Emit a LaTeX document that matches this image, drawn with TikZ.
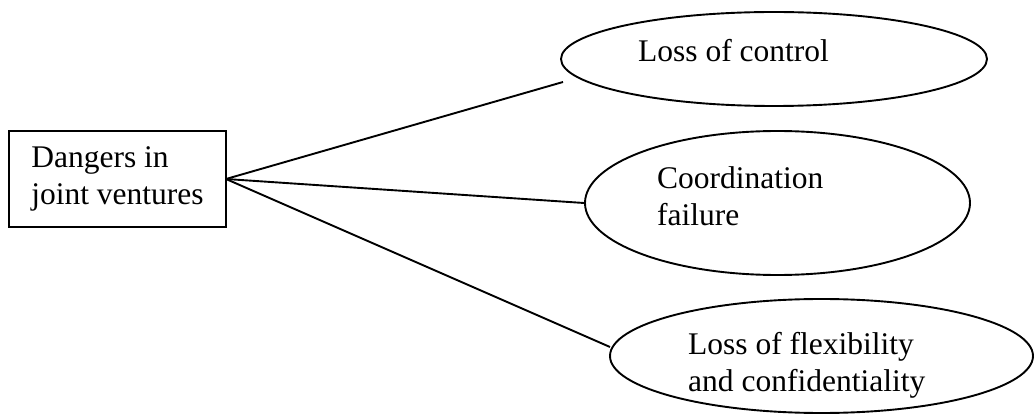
\documentclass[tikz,border=0pt]{standalone}
\usepackage{fontspec}
\setmainfont{Liberation Serif}
\usetikzlibrary{shapes.geometric}
\begin{document}
\begin{tikzpicture}[x=1pt,y=-1pt,
  every node/.style={font=\fontsize{31.5}{37}\selectfont},
  link/.style={draw=black,line width=1.9pt},
  oval/.style={ellipse,draw=black,line width=1.9pt,inner sep=0pt},
  caption/.style={anchor=base west,inner sep=0pt,align=left}]
\useasboundingbox (0,0) rectangle (1034,414);

% root box
\node[draw=black,line width=1.9pt,minimum width=217pt,minimum height=96pt,
      inner sep=0pt,align=left] (root) at (117.5,179)
      {Dangers in\\joint ventures};

% outcome ellipses
\node[oval,minimum width=426pt,minimum height=94pt] (e1) at (774,59) {};
\node[oval,minimum width=385pt,minimum height=144pt] (e2) at (777.5,203) {};
\node[oval,minimum width=423pt,minimum height=114pt] (e3) at (821.5,356) {};

% captions (base anchor sits on the last line)
\node[caption] (t1) at (638,62) {Loss of control};
\node[caption] (t2) at (657,226) {Coordination\\failure};
\node[caption] (t3) at (688,391) {Loss of flexibility\\and confidentiality};

% connectors
\coordinate (hub) at (226,179);
\coordinate (end1) at (563,82);
\coordinate (end3) at (610,347);
\draw[link] (hub) -- (end1);
\draw[link] (hub) -- (e2.west);
\draw[link] (hub) -- (end3);
\end{tikzpicture}
\end{document}
